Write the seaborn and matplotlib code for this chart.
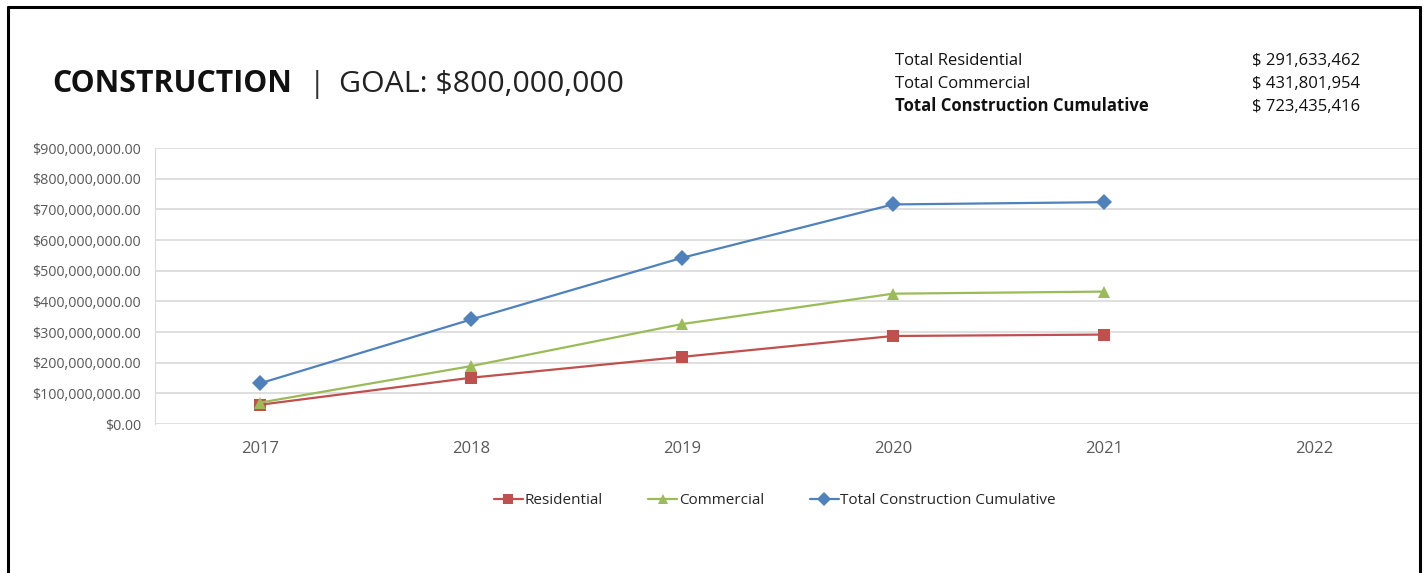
# Construction chart: residential / commercial / cumulative by year

import pandas as pd
import numpy as np
import matplotlib.pyplot as plt
import matplotlib.ticker as mticker
from matplotlib.lines import Line2D
import seaborn as sns

### Data
years = [2017, 2018, 2019, 2020, 2021]
all_years = [2017, 2018, 2019, 2020, 2021, 2022]
residential = [63_000_000, 151_000_000, 219_000_000, 287_000_000, 291_633_462]
commercial = [70_000_000, 189_000_000, 326_000_000, 425_000_000, 431_801_954]
cumulative = [133_000_000, 341_000_000, 542_000_000, 716_000_000, 723_435_416]

series_names = ['Residential', 'Commercial', 'Total Construction Cumulative']
summary_labels = ['Total Residential', 'Total Commercial', 'Total Construction Cumulative']
summary_values = ['$ 291,633,462', '$ 431,801,954', '$ 723,435,416']
y_ticks = [0, 100e6, 200e6, 300e6, 400e6, 500e6, 600e6, 700e6, 800e6, 900e6]

colors = {'Residential': '#C0504D', 'Commercial': '#9BBB59',
          'Total Construction Cumulative': '#4F81BD'}
markers = {'Residential': 's', 'Commercial': '^',
           'Total Construction Cumulative': 'D'}

df = pd.DataFrame({
    'year': years * 3,
    'value': residential + commercial + cumulative,
    'series': [s for s in series_names for _ in years],
})

sns.set_style('white')
plt.rcParams['font.family'] = ['Open Sans', 'DejaVu Sans']

fig = plt.figure(figsize=(14.26, 5.73), dpi=100)
ax = fig.add_axes([0.1087, 0.26, 0.8871, 0.4817])

sns.lineplot(
    data=df, x='year', y='value', hue='series', style='series',
    hue_order=series_names, style_order=series_names,
    palette=colors, markers=markers, dashes=False,
    linewidth=1.6, markersize=8.5, markeredgewidth=0, ax=ax
)

ax.set_xlim(2016.5, 2022.5)
ax.set_xticks(all_years)
ax.set_xticklabels([str(y) for y in all_years])
ax.set_ylim(0, 900e6)
ax.set_yticks(y_ticks)
ax.yaxis.set_major_formatter(mticker.FuncFormatter(lambda v, p: f'${v:,.2f}'))
ax.grid(axis='y', color='#d9d9d9', linewidth=1.2)
ax.set_axisbelow(True)
ax.set_xlabel('')
ax.set_ylabel('')
for side in ['top', 'right', 'bottom']:
    ax.spines[side].set_visible(False)
ax.spines['left'].set_color('#d9d9d9')
ax.tick_params(axis='y', labelsize=10.3, colors='#595959', length=0, pad=10)
ax.tick_params(axis='x', labelsize=12, colors='#595959', length=0, pad=12)

sns.move_legend(ax, 'center', bbox_to_anchor=(0.49, -0.278), ncol=3,
                frameon=False, title=None, fontsize=11, columnspacing=3,
                handlelength=1.9, handletextpad=0.1, markerscale=0.85)

# title
t1 = fig.text(0.0365, 0.84, 'CONSTRUCTION', fontsize=21.8, fontweight='bold',
              color='#111111', va='baseline')
t2 = ax.annotate('|', xy=(1, 0), xycoords=t1, xytext=(12, 0),
                 textcoords='offset points', fontsize=21.8, color='#333333',
                 va='bottom')
ax.annotate('GOAL: $800,000,000', xy=(1, 0), xycoords=t2, xytext=(10, 0),
            textcoords='offset points', fontsize=21.8, color='#222222',
            va='bottom')

# summary table
for i, (lab, val) in enumerate(zip(summary_labels, summary_values)):
    yy = 1 - (65 + 23 * i) / 573
    w = 'bold' if i == 2 else 'normal'
    fig.text(895 / 1426, yy, lab, fontsize=12, fontweight=w, color='#111111',
             va='baseline')
    fig.text(1360 / 1426, yy, val, fontsize=12, color='#111111',
             va='baseline', ha='right')

# frame
for xs, ys in [([8 / 1426, 8 / 1426], [0, 1 - 7 / 573]),
               ([8 / 1426, 1420 / 1426], [1 - 7 / 573, 1 - 7 / 573]),
               ([1420 / 1426, 1420 / 1426], [1 - 7 / 573, 0])]:
    fig.add_artist(Line2D(xs, ys, color='black', linewidth=2.2))

fig.savefig('out.png', dpi=100)
